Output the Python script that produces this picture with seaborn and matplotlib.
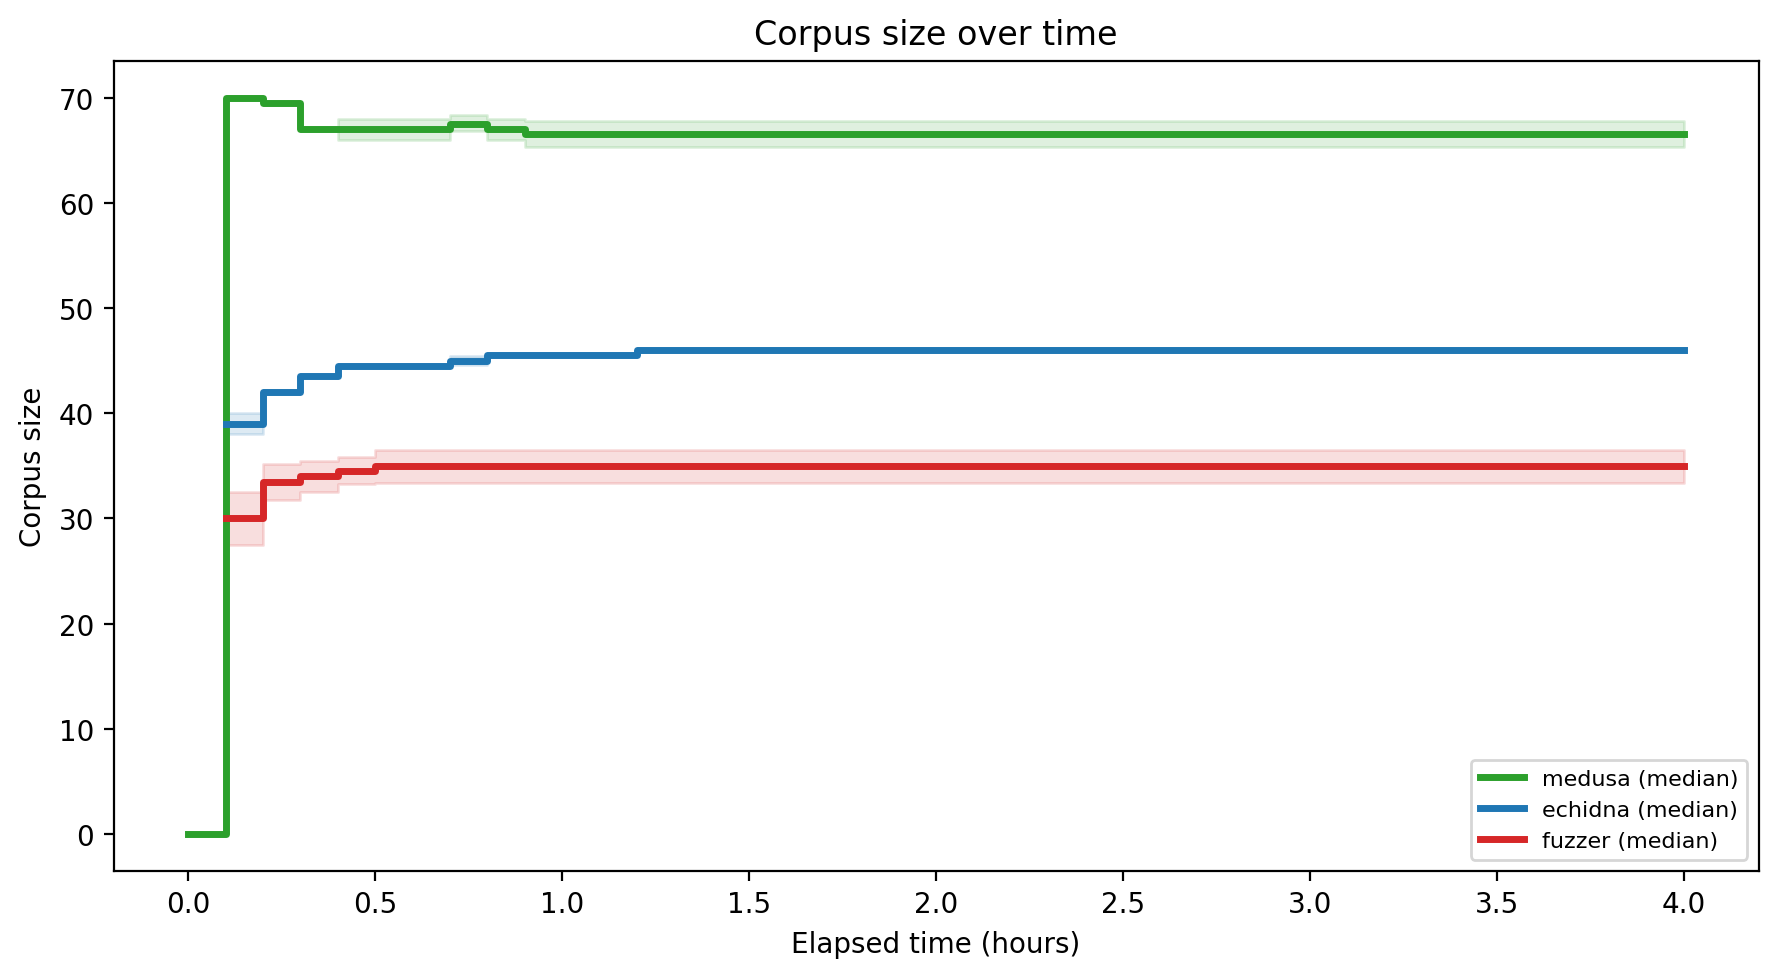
import numpy as np
import matplotlib
matplotlib.use("Agg")
import matplotlib.pyplot as plt
import seaborn as sns

# Elapsed time (hours) at which the corpus size changes
times = [0.0, 0.1, 0.2, 0.3, 0.4, 0.5, 0.7, 0.8, 0.9, 1.2, 4.0]

# medusa
medusa_med = [0, 70, 69.5, 67, 67, 67, 67.5, 67, 66.5, 66.5, 66.5]
medusa_lo = [0, 70, 69.5, 67, 66, 66, 66.8, 66, 65.3, 65.3, 65.3]
medusa_hi = [0, 70, 69.5, 67, 68, 68, 68.3, 68, 67.8, 67.8, 67.8]

# echidna
echidna_med = [np.nan, 39, 42, 43.5, 44.5, 44.5, 45, 45.5, 45.5, 46, 46]
echidna_lo = [np.nan, 38, 41.8, 43.5, 44.5, 44.5, 44.6, 45.5, 45.5, 45.8, 45.8]
echidna_hi = [np.nan, 40, 42.2, 43.5, 44.5, 44.5, 45.4, 45.5, 45.5, 46.2, 46.2]

# fuzzer
fuzzer_med = [np.nan, 30, 33.5, 34, 34.5, 35, 35, 35, 35, 35, 35]
fuzzer_lo = [np.nan, 27.5, 31.8, 32.5, 33.3, 33.4, 33.4, 33.4, 33.4, 33.4, 33.4]
fuzzer_hi = [np.nan, 32.5, 35.2, 35.5, 35.8, 36.5, 36.5, 36.5, 36.5, 36.5, 36.5]

series = [
    ("medusa", medusa_med, medusa_lo, medusa_hi, "tab:green"),
    ("echidna", echidna_med, echidna_lo, echidna_hi, "tab:blue"),
    ("fuzzer", fuzzer_med, fuzzer_lo, fuzzer_hi, "tab:red"),
]

fig, ax = plt.subplots(figsize=(1779 / 200, 978 / 200), dpi=200)

for name, med, lo, hi, color in series:
    sns.lineplot(x=times, y=med, drawstyle="steps-post", color=color,
                 linewidth=2.5, label=f"{name} (median)", ax=ax)
    ax.fill_between(times, lo, hi, step="post", color=color, alpha=0.15)

ax.set_title("Corpus size over time")
ax.set_xlabel("Elapsed time (hours)")
ax.set_ylabel("Corpus size")
ax.legend(loc="lower right", fontsize=8)

fig.subplots_adjust(left=0.0638, right=0.9885, top=0.9369, bottom=0.1084)
fig.savefig("out.png", dpi=200)
